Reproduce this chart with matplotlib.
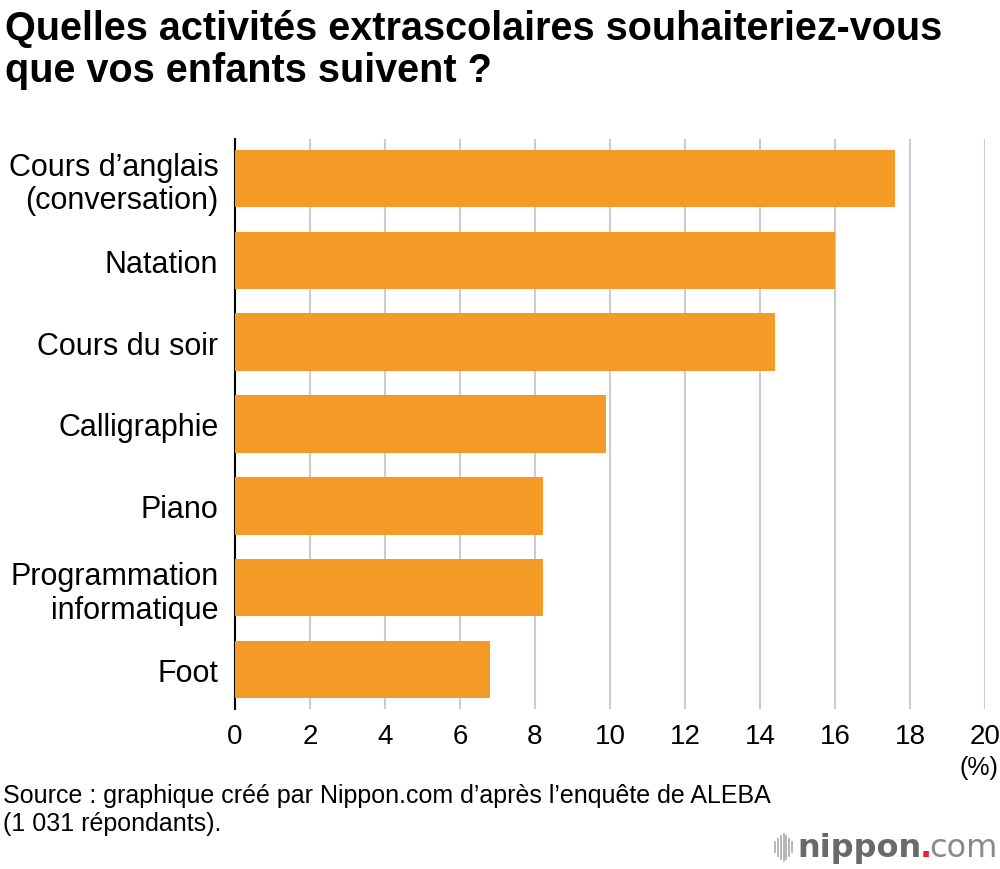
import matplotlib
matplotlib.use("Agg")
import matplotlib.pyplot as plt
from matplotlib.lines import Line2D

plt.rcParams['font.family'] = ['Liberation Sans', 'DejaVu Sans']

categories = ["Cours d\u2019anglais\n(conversation)", "Natation", "Cours du soir",
              "Calligraphie", "Piano", "Programmation\ninformatique", "Foot"]
values = [17.6, 16.0, 14.4, 9.9, 8.2, 8.2, 6.8]
xticks = [0, 2, 4, 6, 8, 10, 12, 14, 16, 18, 20]

fig = plt.figure(figsize=(10, 8.7), dpi=100)
ax = fig.add_axes([0.235, 0.184, 0.75, 0.655])

ypos = list(range(len(categories)))
ax.barh(ypos, values, height=0.7, color="#F39A27", zorder=3)
ax.set_ylim(len(categories) - 0.52, -0.48)
ax.set_xlim(0, 20)
ax.set_xticks(xticks)
ax.set_xticklabels([str(t) for t in xticks], fontsize=20)
ax.set_yticks(ypos)
ax.set_yticklabels(categories, fontsize=22, linespacing=1.15)
ax.tick_params(axis='y', length=0, pad=12)
ax.tick_params(axis='x', length=0, pad=10)
for s in ['top', 'right', 'bottom']:
    ax.spines[s].set_visible(False)
ax.spines['left'].set_color('#000000')
ax.spines['left'].set_linewidth(1.5)
ax.grid(axis='x', color='#cccccc', linewidth=1.5, zorder=0)
ax.grid(axis='y', visible=False)

fig.text(0.005, 0.988, "Quelles activités extrascolaires souhaiteriez-vous\nque vos enfants suivent ?",
         fontsize=28.5, fontweight='bold', va='top', ha='left', linespacing=1.12)
fig.text(0.998, 0.117, "(%)", fontsize=18, ha='right', va='center')
fig.text(0.003, 0.069, "Source : graphique créé par Nippon.com d\u2019après l\u2019enquête de ALEBA\n(1 031 répondants).",
         fontsize=18, ha='left', va='center', linespacing=1.22)

# logo (anchored from the right edge)
fig.canvas.draw()
r = fig.canvas.get_renderer()
W = fig.bbox.width
ly = 0.025
t3 = fig.text(0.998, ly, "com", fontsize=23, color='#8a8a8a',
              ha='right', va='center', family=['DejaVu Sans'])
x3 = t3.get_window_extent(renderer=r).x0 / W
t2 = fig.text(x3 + 0.002, ly, ".", fontsize=23, fontweight='bold', color='#e8222c',
              ha='right', va='center', family=['DejaVu Sans'])
x2 = t2.get_window_extent(renderer=r).x0 / W
t1 = fig.text(x2 + 0.002, ly, "nippon", fontsize=23, fontweight='bold', color='#6a6a6a',
              ha='right', va='center', family=['DejaVu Sans'])
x1 = t1.get_window_extent(renderer=r).x0 / W
heights = [0.010, 0.016, 0.022, 0.026, 0.022, 0.016, 0.010]
for i, h in enumerate(heights):
    x = x1 - 0.022 + i * 0.0028
    fig.add_artist(Line2D([x, x], [ly - h / 2 * 1.2, ly + h / 2 * 1.2],
                          transform=fig.transFigure, color='#aaaaaa', linewidth=1.2))

fig.savefig("out.png", dpi=100, facecolor='white')
